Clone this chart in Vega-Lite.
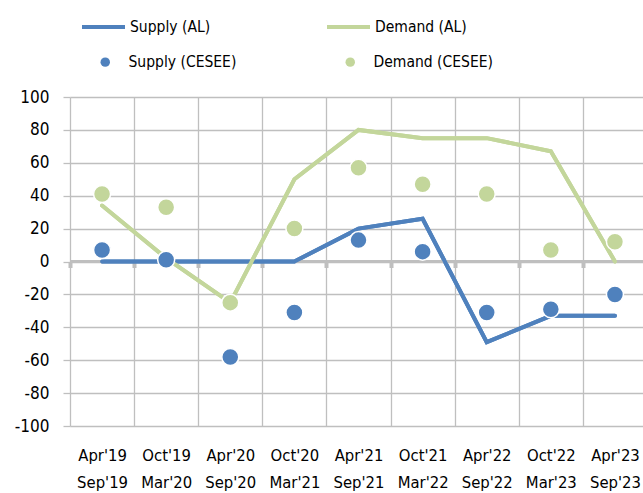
{
  "$schema": "https://vega.github.io/schema/vega-lite/v6.json",
  "autosize": "none",
  "padding": {"left": 70, "top": 97, "right": 0, "bottom": 67},
  "width": 577,
  "height": 329,
  "background": "white",
  "config": {
    "view": {"stroke": null},
    "font": "DejaVu Sans Condensed, DejaVu Sans, sans-serif"
  },
  "data": {
    "values": [
      {"period": "Apr'19|Sep'19", "series": "Supply (AL)", "kind": "line", "value": 0},
      {"period": "Oct'19|Mar'20", "series": "Supply (AL)", "kind": "line", "value": 0},
      {"period": "Apr'20|Sep'20", "series": "Supply (AL)", "kind": "line", "value": 0},
      {"period": "Oct'20|Mar'21", "series": "Supply (AL)", "kind": "line", "value": 0},
      {"period": "Apr'21|Sep'21", "series": "Supply (AL)", "kind": "line", "value": 20},
      {"period": "Oct'21|Mar'22", "series": "Supply (AL)", "kind": "line", "value": 26},
      {"period": "Apr'22|Sep'22", "series": "Supply (AL)", "kind": "line", "value": -49},
      {"period": "Oct'22|Mar'23", "series": "Supply (AL)", "kind": "line", "value": -33},
      {"period": "Apr'23|Sep'23", "series": "Supply (AL)", "kind": "line", "value": -33},
      {"period": "Apr'19|Sep'19", "series": "Demand (AL)", "kind": "line", "value": 34},
      {"period": "Oct'19|Mar'20", "series": "Demand (AL)", "kind": "line", "value": 2},
      {"period": "Apr'20|Sep'20", "series": "Demand (AL)", "kind": "line", "value": -25},
      {"period": "Oct'20|Mar'21", "series": "Demand (AL)", "kind": "line", "value": 50},
      {"period": "Apr'21|Sep'21", "series": "Demand (AL)", "kind": "line", "value": 80},
      {"period": "Oct'21|Mar'22", "series": "Demand (AL)", "kind": "line", "value": 75},
      {"period": "Apr'22|Sep'22", "series": "Demand (AL)", "kind": "line", "value": 75},
      {"period": "Oct'22|Mar'23", "series": "Demand (AL)", "kind": "line", "value": 67},
      {"period": "Apr'23|Sep'23", "series": "Demand (AL)", "kind": "line", "value": 0},
      {"period": "Apr'19|Sep'19", "series": "Supply (CESEE)", "kind": "point", "value": 7},
      {"period": "Oct'19|Mar'20", "series": "Supply (CESEE)", "kind": "point", "value": 1},
      {"period": "Apr'20|Sep'20", "series": "Supply (CESEE)", "kind": "point", "value": -58},
      {"period": "Oct'20|Mar'21", "series": "Supply (CESEE)", "kind": "point", "value": -31},
      {"period": "Apr'21|Sep'21", "series": "Supply (CESEE)", "kind": "point", "value": 13},
      {"period": "Oct'21|Mar'22", "series": "Supply (CESEE)", "kind": "point", "value": 6},
      {"period": "Apr'22|Sep'22", "series": "Supply (CESEE)", "kind": "point", "value": -31},
      {"period": "Oct'22|Mar'23", "series": "Supply (CESEE)", "kind": "point", "value": -29},
      {"period": "Apr'23|Sep'23", "series": "Supply (CESEE)", "kind": "point", "value": -20},
      {"period": "Apr'19|Sep'19", "series": "Demand (CESEE)", "kind": "point", "value": 41},
      {"period": "Oct'19|Mar'20", "series": "Demand (CESEE)", "kind": "point", "value": 33},
      {"period": "Apr'20|Sep'20", "series": "Demand (CESEE)", "kind": "point", "value": -25},
      {"period": "Oct'20|Mar'21", "series": "Demand (CESEE)", "kind": "point", "value": 20},
      {"period": "Apr'21|Sep'21", "series": "Demand (CESEE)", "kind": "point", "value": 57},
      {"period": "Oct'21|Mar'22", "series": "Demand (CESEE)", "kind": "point", "value": 47},
      {"period": "Apr'22|Sep'22", "series": "Demand (CESEE)", "kind": "point", "value": 41},
      {"period": "Oct'22|Mar'23", "series": "Demand (CESEE)", "kind": "point", "value": 7},
      {"period": "Apr'23|Sep'23", "series": "Demand (CESEE)", "kind": "point", "value": 12}
    ]
  },
  "resolve": {"axis": {"x": "independent"}},
  "layer": [
    {
      "transform": [{"filter": "datum.kind === 'line'"}],
      "mark": {"type": "line", "strokeWidth": 4, "strokeCap": "round"},
      "encoding": {
        "x": {
          "field": "period", "type": "nominal", "sort": null,
          "scale": {"paddingInner": 0, "paddingOuter": 0},
          "axis": {
            "title": null, "orient": "bottom", "tickBand": "extent", "grid": true,
            "gridColor": "#BFBFBF", "gridWidth": 1.3, "domain": false, "ticks": false,
            "labelAngle": 0, "labelFontSize": 16.5, "labelColor": "#000000",
            "labelExpr": "split(datum.label, '|')", "labelLineHeight": 27.5,
            "labelPadding": 21, "labelBaseline": "top", "labelOverlap": false
          }
        },
        "y": {
          "field": "value", "type": "quantitative",
          "scale": {"domain": [-100, 100], "nice": false},
          "axis": {
            "title": null, "values": [-100, -80, -60, -40, -20, 0, 20, 40, 60, 80, 100],
            "tickCount": 11, "labelExpr": "datum.value + ''",
            "grid": true, "gridColor": "#BFBFBF", "gridWidth": 1.3,
            "domain": false, "ticks": true, "tickSize": 7, "tickColor": "#BFBFBF", "tickWidth": 1.3,
            "labelFontSize": 17, "labelColor": "#000000", "labelPadding": 14,
            "labelOverlap": false, "labelFlush": false
          }
        },
        "color": {
          "field": "series", "type": "nominal",
          "scale": {"domain": ["Supply (AL)", "Demand (AL)"], "range": ["#4F81BD", "#C3D69B"]},
          "legend": {
            "title": null, "orient": "none", "legendX": 10, "legendY": -93.5,
            "direction": "horizontal", "columns": 2, "columnPadding": 108,
            "symbolType": "stroke", "symbolSize": 1849, "symbolStrokeWidth": 4,
            "labelOffset": 3, "labelFontSize": 15.5, "labelColor": "#000000", "padding": 0
          }
        }
      }
    },
    {
      "mark": {"type": "rule", "color": "#BFBFBF", "strokeWidth": 3},
      "encoding": {"y": {"datum": 0, "type": "quantitative"}}
    },
    {
      "transform": [{"filter": "datum.kind === 'line'"}],
      "mark": {"type": "line", "strokeWidth": 4, "strokeCap": "round"},
      "encoding": {
        "x": {"field": "period", "type": "nominal", "sort": null, "axis": null},
        "y": {"field": "value", "type": "quantitative"},
        "color": {"field": "series", "type": "nominal"}
      }
    },
    {
      "transform": [{"filter": "datum.kind === 'point'"}],
      "mark": {"type": "point", "filled": true, "size": 289, "stroke": "white", "strokeWidth": 1.5, "opacity": 1},
      "encoding": {
        "x": {
          "field": "period", "type": "nominal", "sort": null,
          "axis": {
            "title": null, "orient": "bottom", "offset": -164.5, "tickBand": "extent",
            "labels": false, "grid": false, "domain": false, "ticks": true,
            "tickSize": 6, "tickWidth": 4, "tickColor": "#BFBFBF"
          }
        },
        "y": {"field": "value", "type": "quantitative"},
        "fill": {
          "field": "series", "type": "nominal",
          "scale": {"domain": ["Supply (CESEE)", "Demand (CESEE)"], "range": ["#4F81BD", "#C3D69B"]},
          "legend": {
            "title": null, "orient": "none", "legendX": 27.5, "legendY": -43,
            "direction": "horizontal", "columns": 2, "columnPadding": 106,
            "symbolType": "circle", "symbolSize": 90, "symbolStrokeWidth": 0,
            "labelOffset": 15.5, "labelFontSize": 15.5, "labelColor": "#000000", "padding": 0
          }
        }
      }
    }
  ]
}
